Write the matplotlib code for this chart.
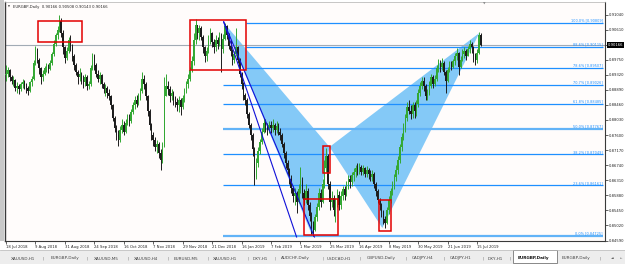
import numpy as np
import matplotlib
matplotlib.use('Agg')
import matplotlib.pyplot as plt
from matplotlib.patches import Rectangle, Polygon

# ---- daily EURGBP candles ----
first_open = 0.8930
closes = [
    0.8935, 0.8945, 0.8925, 0.8915, 0.8918, 0.8895, 0.8900, 0.8890, 0.8905, 0.8912,
    0.8900, 0.8895, 0.8885, 0.8910, 0.8920, 0.8965, 0.9005, 0.8975, 0.8950, 0.8925,
    0.8935, 0.8950, 0.8955, 0.8948, 0.8965, 0.8990, 0.9020, 0.9045, 0.9060, 0.9085,
    0.9050, 0.9010, 0.8980, 0.9000, 0.9030, 0.9010, 0.8985, 0.8960, 0.8940, 0.8925,
    0.8935, 0.8920, 0.8910, 0.8925, 0.8900, 0.8905, 0.8950, 0.8985, 0.8960, 0.8935,
    0.8920, 0.8930, 0.8905, 0.8890, 0.8895, 0.8880, 0.8870, 0.8845, 0.8810, 0.8780,
    0.8760, 0.8745, 0.8775, 0.8790, 0.8770, 0.8795, 0.8810, 0.8800, 0.8825, 0.8845,
    0.8860, 0.8850, 0.8870, 0.8885, 0.8920, 0.8905, 0.8870, 0.8830, 0.8790, 0.8760,
    0.8745, 0.8725, 0.8735, 0.8710, 0.8690, 0.8730, 0.8870, 0.8900, 0.8890, 0.8870,
    0.8880, 0.8860, 0.8855, 0.8845, 0.8860, 0.8840, 0.8865, 0.8885, 0.8905, 0.8920,
    0.8945, 0.8970, 0.9030, 0.9075, 0.9050, 0.9065, 0.9040, 0.9010, 0.8985, 0.9000,
    0.9030, 0.9050, 0.9025, 0.9010, 0.9030, 0.9020, 0.9045, 0.9005, 0.9035, 0.9070,
    0.9045, 0.9015, 0.9000, 0.8975, 0.8990, 0.9010, 0.8975, 0.8935, 0.8905, 0.8875,
    0.8860, 0.8820, 0.8790, 0.8760, 0.8720, 0.8640, 0.8680, 0.8715, 0.8740, 0.8770,
    0.8795, 0.8790, 0.8775, 0.8790, 0.8780, 0.8790, 0.8775, 0.8785, 0.8770, 0.8760,
    0.8735, 0.8710, 0.8680, 0.8660, 0.8635, 0.8610, 0.8585, 0.8595, 0.8570, 0.8605,
    0.8630, 0.8595, 0.8575, 0.8600, 0.8560, 0.8530, 0.8500, 0.8490, 0.8525, 0.8555,
    0.8595, 0.8570, 0.8620, 0.8665, 0.8700, 0.8620, 0.8570, 0.8580, 0.8545, 0.8565,
    0.8590, 0.8560, 0.8585, 0.8605, 0.8590, 0.8620, 0.8635, 0.8625, 0.8645, 0.8655,
    0.8665, 0.8660, 0.8670, 0.8655, 0.8665, 0.8650, 0.8660, 0.8650, 0.8640, 0.8650,
    0.8620, 0.8600, 0.8575, 0.8560, 0.8540, 0.8520, 0.8510, 0.8545, 0.8575, 0.8600,
    0.8615, 0.8640, 0.8660, 0.8690, 0.8725, 0.8755, 0.8780, 0.8810, 0.8840, 0.8830,
    0.8820, 0.8845, 0.8830, 0.8850, 0.8880, 0.8900, 0.8915, 0.8900, 0.8870, 0.8880,
    0.8900, 0.8925, 0.8905, 0.8920, 0.8950, 0.8965, 0.8955, 0.8965, 0.8940, 0.8915,
    0.8945, 0.8960, 0.8955, 0.8970, 0.8985, 0.8995, 0.8955, 0.8975, 0.8990, 0.9000,
    0.8985, 0.9005, 0.9020, 0.9010, 0.8985, 0.8975, 0.8995, 0.9045, 0.90166,
]
highs = [
    0.8960, 0.8955, 0.8948, 0.8930, 0.8928, 0.8920, 0.8910, 0.8905, 0.8912, 0.8920,
    0.8918, 0.8908, 0.8900, 0.8915, 0.8928, 0.8975, 0.9015, 0.9008, 0.8980, 0.8955,
    0.8945, 0.8958, 0.8965, 0.8962, 0.8975, 0.8998, 0.9030, 0.9050, 0.9070, 0.9102,
    0.9095, 0.9060, 0.9015, 0.9010, 0.9040, 0.9045, 0.9020, 0.8990, 0.8965, 0.8945,
    0.8950, 0.8940, 0.8930, 0.8935, 0.8930, 0.8915, 0.8960, 0.8995, 0.8990, 0.8965,
    0.8945, 0.8940, 0.8935, 0.8912, 0.8905, 0.8900, 0.8890, 0.8875, 0.8850, 0.8815,
    0.8790, 0.8775, 0.8785, 0.8805, 0.8800, 0.8805, 0.8820, 0.8820, 0.8835, 0.8855,
    0.8870, 0.8875, 0.8880, 0.8895, 0.8940, 0.8930, 0.8910, 0.8875, 0.8835, 0.8795,
    0.8770, 0.8755, 0.8745, 0.8740, 0.8720, 0.8740, 0.8925, 0.8935, 0.8915, 0.8900,
    0.8890, 0.8885, 0.8870, 0.8865, 0.8870, 0.8865, 0.8875, 0.8895, 0.8915, 0.8935,
    0.8955, 0.8985, 0.9050, 0.9092, 0.9075, 0.9075, 0.9070, 0.9045, 0.9015, 0.9010,
    0.9045, 0.9065, 0.9055, 0.9035, 0.9045, 0.9040, 0.9055, 0.9050, 0.9048, 0.9081,
    0.9075, 0.9050, 0.9030, 0.9005, 0.9000, 0.9065, 0.9015, 0.8980, 0.8940, 0.8910,
    0.8880, 0.8865, 0.8825, 0.8795, 0.8765, 0.8725, 0.8695, 0.8725, 0.8750, 0.8780,
    0.8810, 0.8805, 0.8795, 0.8800, 0.8800, 0.8805, 0.8795, 0.8800, 0.8795, 0.8780,
    0.8765, 0.8740, 0.8715, 0.8690, 0.8665, 0.8645, 0.8615, 0.8610, 0.8600, 0.8620,
    0.8670, 0.8640, 0.8605, 0.8620, 0.8610, 0.8570, 0.8540, 0.8515, 0.8535, 0.8565,
    0.8610, 0.8605, 0.8635, 0.8690, 0.8723, 0.8705, 0.8630, 0.8600, 0.8590, 0.8580,
    0.8605, 0.8600, 0.8600, 0.8615, 0.8615, 0.8630, 0.8645, 0.8645, 0.8655, 0.8665,
    0.8675, 0.8680, 0.8680, 0.8675, 0.8675, 0.8670, 0.8672, 0.8665, 0.8660, 0.8660,
    0.8655, 0.8625, 0.8605, 0.8580, 0.8565, 0.8545, 0.8530, 0.8555, 0.8585, 0.8610,
    0.8630, 0.8650, 0.8675, 0.8700, 0.8735, 0.8765, 0.8795, 0.8820, 0.8855, 0.8860,
    0.8845, 0.8855, 0.8855, 0.8860, 0.8890, 0.8910, 0.8925, 0.8925, 0.8905, 0.8890,
    0.8915, 0.8935, 0.8930, 0.8930, 0.8960, 0.8978, 0.8975, 0.8980, 0.8970, 0.8945,
    0.8955, 0.8970, 0.8972, 0.8978, 0.8995, 0.9008, 0.8998, 0.8985, 0.9005, 0.9010,
    0.9005, 0.9015, 0.9030, 0.9025, 0.9015, 0.8995, 0.9005, 0.9055, 0.90508,
]
lows = [
    0.8915, 0.8925, 0.8915, 0.8905, 0.8900, 0.8885, 0.8880, 0.8878, 0.8885, 0.8895,
    0.8890, 0.8880, 0.8875, 0.8882, 0.8900, 0.8918, 0.8960, 0.8965, 0.8935, 0.8905,
    0.8915, 0.8930, 0.8940, 0.8938, 0.8945, 0.8960, 0.8985, 0.9015, 0.9035, 0.9055,
    0.9040, 0.8990, 0.8965, 0.8975, 0.8995, 0.9000, 0.8970, 0.8945, 0.8930, 0.8905,
    0.8915, 0.8905, 0.8895, 0.8900, 0.8888, 0.8890, 0.8900, 0.8945, 0.8945, 0.8925,
    0.8910, 0.8905, 0.8895, 0.8880, 0.8870, 0.8865, 0.8860, 0.8835, 0.8800, 0.8770,
    0.8745, 0.8728, 0.8740, 0.8765, 0.8760, 0.8765, 0.8790, 0.8785, 0.8795, 0.8820,
    0.8835, 0.8840, 0.8845, 0.8860, 0.8880, 0.8890, 0.8860, 0.8815, 0.8775, 0.8745,
    0.8730, 0.8715, 0.8710, 0.8695, 0.8660, 0.8680, 0.8725, 0.8880, 0.8875, 0.8855,
    0.8860, 0.8845, 0.8840, 0.8830, 0.8825, 0.8818, 0.8835, 0.8855, 0.8880, 0.8895,
    0.8915, 0.8940, 0.8960, 0.9020, 0.9035, 0.9030, 0.9030, 0.8995, 0.8968, 0.8970,
    0.8995, 0.9020, 0.9010, 0.8995, 0.9000, 0.9005, 0.9015, 0.8940, 0.8995, 0.9030,
    0.9035, 0.9005, 0.8985, 0.8960, 0.8965, 0.8985, 0.8965, 0.8925, 0.8890, 0.8860,
    0.8845, 0.8810, 0.8780, 0.8745, 0.8700, 0.8617, 0.8635, 0.8670, 0.8705, 0.8735,
    0.8765, 0.8770, 0.8760, 0.8765, 0.8765, 0.8770, 0.8760, 0.8765, 0.8760, 0.8745,
    0.8725, 0.8695, 0.8665, 0.8645, 0.8620, 0.8595, 0.8570, 0.8560, 0.8538, 0.8565,
    0.8595, 0.8580, 0.8560, 0.8565, 0.8545, 0.8515, 0.8478, 0.8473, 0.8485, 0.8515,
    0.8545, 0.8555, 0.8565, 0.8610, 0.8655, 0.8605, 0.8546, 0.8555, 0.8530, 0.8512,
    0.8555, 0.8545, 0.8550, 0.8575, 0.8575, 0.8585, 0.8605, 0.8610, 0.8615, 0.8630,
    0.8640, 0.8645, 0.8650, 0.8645, 0.8645, 0.8640, 0.8640, 0.8635, 0.8630, 0.8630,
    0.8610, 0.8585, 0.8565, 0.8545, 0.8525, 0.8505, 0.8495, 0.8505, 0.8535, 0.8565,
    0.8590, 0.8605, 0.8630, 0.8650, 0.8680, 0.8715, 0.8745, 0.8770, 0.8800, 0.8820,
    0.8805, 0.8810, 0.8810, 0.8815, 0.8840, 0.8870, 0.8890, 0.8885, 0.8860, 0.8860,
    0.8875, 0.8895, 0.8895, 0.8900, 0.8915, 0.8940, 0.8940, 0.8945, 0.8930, 0.8880,
    0.8910, 0.8940, 0.8945, 0.8950, 0.8960, 0.8975, 0.8930, 0.8950, 0.8970, 0.8980,
    0.8975, 0.8985, 0.8995, 0.8995, 0.8968, 0.8960, 0.8965, 0.8990, 0.90143,
]

date_idx = [0, 16, 32, 48, 64, 80, 96, 112, 128, 144, 160, 176, 192, 208, 224, 240, 256]
date_labels = ['18 Jul 2018', '9 Aug 2018', '31 Aug 2018', '24 Sep 2018', '16 Oct 2018',
               '7 Nov 2018', '29 Nov 2018', '21 Dec 2018', '16 Jan 2019', '7 Feb 2019',
               '1 Mar 2019', '25 Mar 2019', '16 Apr 2019', '8 May 2019', '30 May 2019',
               '21 Jun 2019', '15 Jul 2019']
price_ticks = [0.91040, 0.90610, 0.90180, 0.89750, 0.89320, 0.88890, 0.88460, 0.88030,
               0.87600, 0.87170, 0.86740, 0.86310, 0.85880, 0.85450, 0.85020, 0.84590]
last_price = 0.90166

# fibonacci retracement
fib_pct = [0.0, 23.6, 38.2, 50.0, 61.8, 70.7, 78.6, 88.6, 100.0]
fib_price = [0.84725, 0.86161, 0.87049, 0.87767, 0.88485, 0.89026, 0.89507, 0.90115, 0.90809]
fib_start = [117.7, 117.7, 117.7, 117.7, 117.7, 117.7, 130.5, 130.5, 130.5]
fib_end = 324.4

# harmonic pattern X A B C D
pat_x = [118.3, 166.5, 175.8, 204.5, 257.2]
pat_y = [0.90809, 0.84719, 0.87260, 0.84947, 0.90512]

# two trend lines out of X
trend_x0 = [118.3, 118.3]
trend_y0 = [0.90830, 0.90830]
trend_x1 = [157.9, 167.6]
trend_y1 = [0.84690, 0.84690]

# red boxes: (i0, i1, low, high)
boxes = [
    (17.4, 41.2, 0.90255, 0.90855),
    (99.8, 130.2, 0.89456, 0.90883),
    (161.7, 180.6, 0.84747, 0.85775),
    (172.0, 176.3, 0.86517, 0.87287),
    (202.9, 209.4, 0.84861, 0.85746),
]

tabs = ['XAUUSD,H1', 'EURGBP,Daily', 'XAUUSD,M5', 'XAUUSD,H4', 'EURUSD,M5', 'XAUUSD,H1',
        'DXY,H1', 'AUDCHF,Daily', 'USDCAD,H1', 'GBPUSD,Daily', 'CADJPY,H4', 'CADJPY,H1',
        'DXY,H1', 'EURGBP,Daily', 'EURGBP,Daily']
tab_px = [11, 51, 94, 134, 174, 213, 253, 281, 327, 367, 412, 450, 488, 518, 562]
sep_px = [43, 87, 128, 168, 208, 248, 275, 323, 360, 406, 444, 483, 510, 600]
active_tab = 13

GREEN = '#33a833'
BLACK = '#1c1c1c'
FIB = '#1E8FFF'
FS = 2.7

W, H = 625, 264
fig = plt.figure(figsize=(W / 100, H / 100), dpi=100)
fig.patch.set_facecolor('white')


def fx(px):
    return px / W


def fy(py):
    return 1 - py / H


ax = fig.add_axes([fx(5), fy(241), fx(605) - fx(5), fy(2) - fy(241)])
ax.set_facecolor('#FFFCFB')
ax.set_xlim(-0.54, 325.5)
ax.set_ylim(0.84576, 0.91397)

# pattern triangles
ax.add_patch(Polygon(list(zip(pat_x[0:3], pat_y[0:3])), closed=True,
                     facecolor='#84C9F7', edgecolor='none', zorder=1))
ax.add_patch(Polygon(list(zip(pat_x[2:5], pat_y[2:5])), closed=True,
                     facecolor='#84C9F7', edgecolor='none', zorder=1))

# current price line
ax.axhline(last_price, color='#A2ABB5', lw=0.8, zorder=2)

# fib levels
for pct, p, s in zip(fib_pct, fib_price, fib_start):
    if pct in (0.0, 50.0):
        ax.plot([s, fib_end], [p, p], color='#62B3F7', lw=1.6, zorder=2,
                solid_capstyle='butt')
    else:
        ax.plot([s, fib_end], [p, p], color=FIB, lw=0.9, zorder=2,
                solid_capstyle='butt')
    ax.text(fib_end, p + 0.00012, f'{pct:.1f}% [{p:.5f}]', color=FIB,
            fontsize=2.5, ha='right', va='bottom', zorder=3)

# candles
idx = np.arange(len(closes))
c = np.array(closes)
h = np.array(highs)
l = np.array(lows)
o = np.array([first_open] + closes[:-1])
up = c >= o
col = np.where(up, GREEN, BLACK)
top = np.maximum(h, np.maximum(o, c))
bot = np.minimum(l, np.minimum(o, c))
ax.vlines(idx, bot, top, colors=col, lw=0.7, zorder=4)
ax.bar(idx, np.maximum(np.abs(c - o), 0.00008), bottom=np.minimum(o, c),
       width=0.8, color=col, linewidth=0, zorder=4)

# trend lines
for x0, y0, x1, y1 in zip(trend_x0, trend_y0, trend_x1, trend_y1):
    ax.plot([x0, x1], [y0, y1], color='#1010D8', lw=0.8, zorder=5)

# red boxes
for i0, i1, lo, hi in boxes:
    ax.add_patch(Rectangle((i0, lo), i1 - i0, hi - lo, fill=False,
                           edgecolor='#E30000', lw=1.1, zorder=6))

# axes styling
for side in ['left', 'bottom', 'right']:
    ax.spines[side].set_color('#3a3a3a')
    ax.spines[side].set_linewidth(0.8)
ax.spines['left'].set_linewidth(1.0)
ax.spines['top'].set_color('#b0b0b0')
ax.spines['top'].set_linewidth(0.5)

ax.yaxis.tick_right()
ax.set_yticks(price_ticks)
ax.set_yticklabels([f'{p:.5f}' for p in price_ticks])
ax.tick_params(axis='y', which='both', length=2, width=0.5, pad=1,
               labelsize=FS, colors='#222222')
ax.set_xticks(date_idx)
ax.set_xticklabels(date_labels)
ax.tick_params(axis='x', length=2, width=0.5, pad=1.2, labelsize=FS,
               colors='#222222')
for lbl in ax.get_xticklabels():
    lbl.set_horizontalalignment('left')

# current price box on the scale
ax.annotate(f'{last_price:.5f}', xy=(1.0, last_price),
            xycoords=('axes fraction', 'data'), xytext=(2.2, 0),
            textcoords='offset points', ha='left', va='center',
            fontsize=FS, color='white',
            bbox=dict(boxstyle='square,pad=0.25', facecolor='black',
                      edgecolor='none'))

# header
fig.text(fx(8), fy(7), '\u25BC', fontsize=1.8, color='#444444', va='center')
fig.text(fx(13), fy(7), 'EURGBP,Daily  0.90166 0.90508 0.90143 0.90166',
         fontsize=FS, color='#222222', va='center')
# chart shift marker
fig.text(fx(484), fy(4), '\u25BC', fontsize=2.4, color='#8a8a8a',
         ha='center', va='center')

# window border on the left
fig.patches.append(Rectangle((0, fy(241)), fx(4), fy(0) - fy(241),
                             transform=fig.transFigure, facecolor='#C9C9C9',
                             edgecolor='none', zorder=0))

# tab bar
fig.patches.append(Rectangle((0, 0), 1, fy(250), transform=fig.transFigure,
                             facecolor='#EDEDED', edgecolor='none', zorder=0))
fig.add_artist(plt.Line2D([0, 1], [fy(250), fy(250)], transform=fig.transFigure,
                          color='#B8B8B8', lw=0.5))
fig.patches.append(Rectangle((fx(513), fy(263)), fx(557) - fx(513), fy(250) - fy(263),
                             transform=fig.transFigure, facecolor='white',
                             edgecolor='#777777', lw=0.6, zorder=1))
for k, (name, px) in enumerate(zip(tabs, tab_px)):
    fig.text(fx(px), fy(258.5), name, fontsize=3.0, va='center',
             color='#111111' if k == active_tab else '#444444',
             fontweight='bold' if k == active_tab else 'normal')
for px in sep_px:
    fig.text(fx(px), fy(258.5), '|', fontsize=3.0, va='center', ha='center',
             color='#777777')
fig.text(fx(612), fy(258.5), '\u25C4', fontsize=2.4, va='center', ha='center',
         color='#222222')
fig.text(fx(621), fy(258.5), '\u25BA', fontsize=2.4, va='center', ha='center',
         color='#9a9a9a')

fig.savefig('out.png', dpi=100, facecolor=fig.get_facecolor())
